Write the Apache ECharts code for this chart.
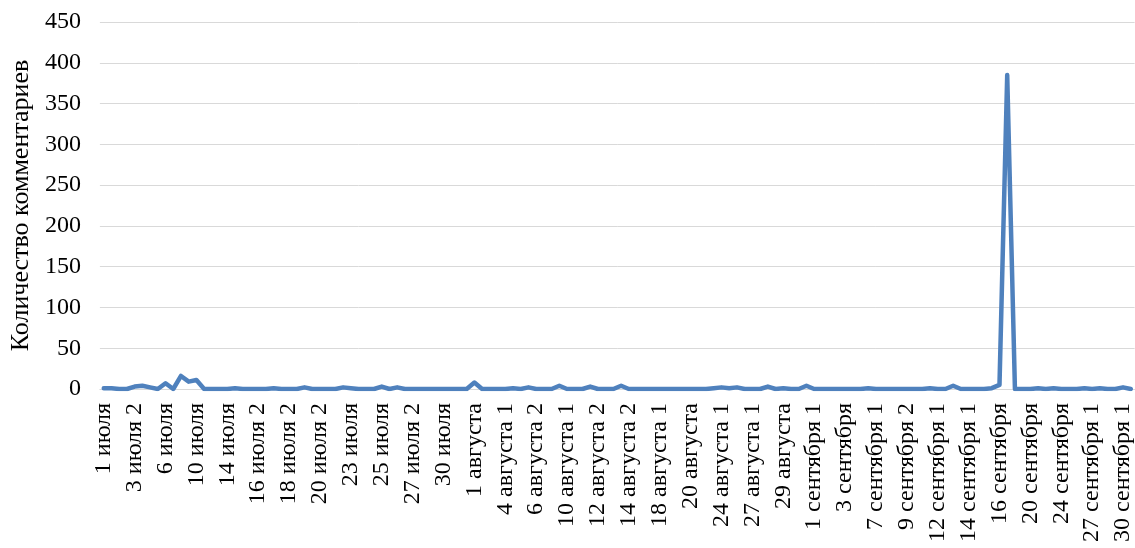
<!DOCTYPE html>
<html><head><meta charset="utf-8">
<script src="https://cdn.jsdelivr.net/npm/echarts@6/dist/echarts.min.js"></script>
<style>html,body{margin:0;padding:0;background:#fff}#c{width:1135px;height:548px}</style>
</head><body><div id="c"></div>
<script>
const categories = [
"1 июля","2 июля","2 июля 2","3 июля 1","3 июля 2","4 июля","5 июля 1","5 июля 2","6 июля","7 июля","8 июля","9 июля",
"10 июля","11 июля","12 июля","13 июля","14 июля","15 июля 1","15 июля 2","16 июля 1","16 июля 2","17 июля 1","17 июля 2","18 июля 1",
"18 июля 2","19 июля 1","19 июля 2","20 июля 1","20 июля 2","21 июля","22 июля 1","22 июля 2","23 июля","24 июля 1","24 июля 2","24 июля 3",
"25 июля","26 июля 1","26 июля 2","27 июля 1","27 июля 2","28 июля 1","28 июля 2","29 июля","30 июля","31 июля 1","31 июля 2","31 июля 3",
"1 августа","2 августа","3 августа 1","3 августа 2","4 августа 1","4 августа 2","5 августа","6 августа 1","6 августа 2","7 августа","8 августа","9 августа",
"10 августа 1","10 августа 2","11 августа","12 августа 1","12 августа 2","13 августа 1","13 августа 2","14 августа 1","14 августа 2","15 августа","16 августа","17 августа",
"18 августа 1","18 августа 2","19 августа 1","19 августа 2","20 августа","21 августа","22 августа","23 августа","24 августа 1","24 августа 2","25 августа","26 августа",
"27 августа 1","27 августа 2","28 августа 1","28 августа 2","29 августа","30 августа 1","30 августа 2","31 августа","1 сентября 1","1 сентября 2","2 сентября 1","2 сентября 2",
"3 сентября","4 сентября","5 сентября","6 сентября","7 сентября 1","7 сентября 2","8 сентября","9 сентября 1","9 сентября 2","10 сентября","11 сентября 1","11 сентября 2",
"12 сентября 1","12 сентября 2","13 сентября 1","13 сентября 2","14 сентября 1","14 сентября 2","15 сентября 1","15 сентября 2","16 сентября","17 сентября","18 сентября","19 сентября",
"20 сентября","21 сентября","22 сентября","23 сентября","24 сентября","25 сентября","26 сентября 1","26 сентября 2","27 сентября 1","27 сентября 2","28 сентября","29 сентября",
"30 сентября 1","30 сентября 2"
];
const comments = [
1,1,0,0,3,4,2,0,7,0,16,9,
11,0,0,0,0,1,0,0,0,0,1,0,
0,0,2,0,0,0,0,2,1,0,0,0,
3,0,2,0,0,0,0,0,0,0,0,0,
8,0,0,0,0,1,0,2,0,0,0,4,
0,0,0,3,0,0,0,4,0,0,0,0,
0,0,0,0,0,0,0,1,2,1,2,0,
0,0,3,0,1,0,0,4,0,0,0,0,
0,0,0,1,0,0,0,0,0,0,0,1,
0,0,4,0,0,0,0,1,5,385,0,0,
0,1,0,1,0,0,0,1,0,1,0,0,
2,0
];
const yTicks = [0,50,100,150,200,250,300,350,400,450];
const yName = "Количество комментариев";

const chart = echarts.init(document.getElementById('c'), null, {renderer:'canvas'});
chart.setOption({
  animation:false,
  grid:{left:97,right:0,top:22,bottom:159,containLabel:false},
  xAxis:{
    type:'category', data:categories, boundaryGap:true,
    axisLine:{show:true,lineStyle:{color:'#d9d9d9',width:1}},
    axisTick:{show:false},
    axisLabel:{interval:3,rotate:90,margin:14,color:'#000',fontFamily:'Liberation Serif',fontSize:24}
  },
  yAxis:{
    type:'value', min:yTicks[0], max:yTicks[yTicks.length-1], interval:50,
    name:yName, nameLocation:'middle', nameGap:63,
    nameTextStyle:{color:'#000',fontFamily:'Liberation Serif',fontSize:26},
    axisLine:{show:false}, axisTick:{show:false},
    axisLabel:{margin:19,color:'#000',fontFamily:'Liberation Serif',fontSize:24},
    splitLine:{lineStyle:{color:'#d9d9d9',width:1}}
  },
  series:[{
    type:'line', data:comments, showSymbol:false, symbol:'none',
    lineStyle:{color:'#4f81bd',width:4.5,cap:'round',join:'round'}
  }]
});
</script></body></html>
